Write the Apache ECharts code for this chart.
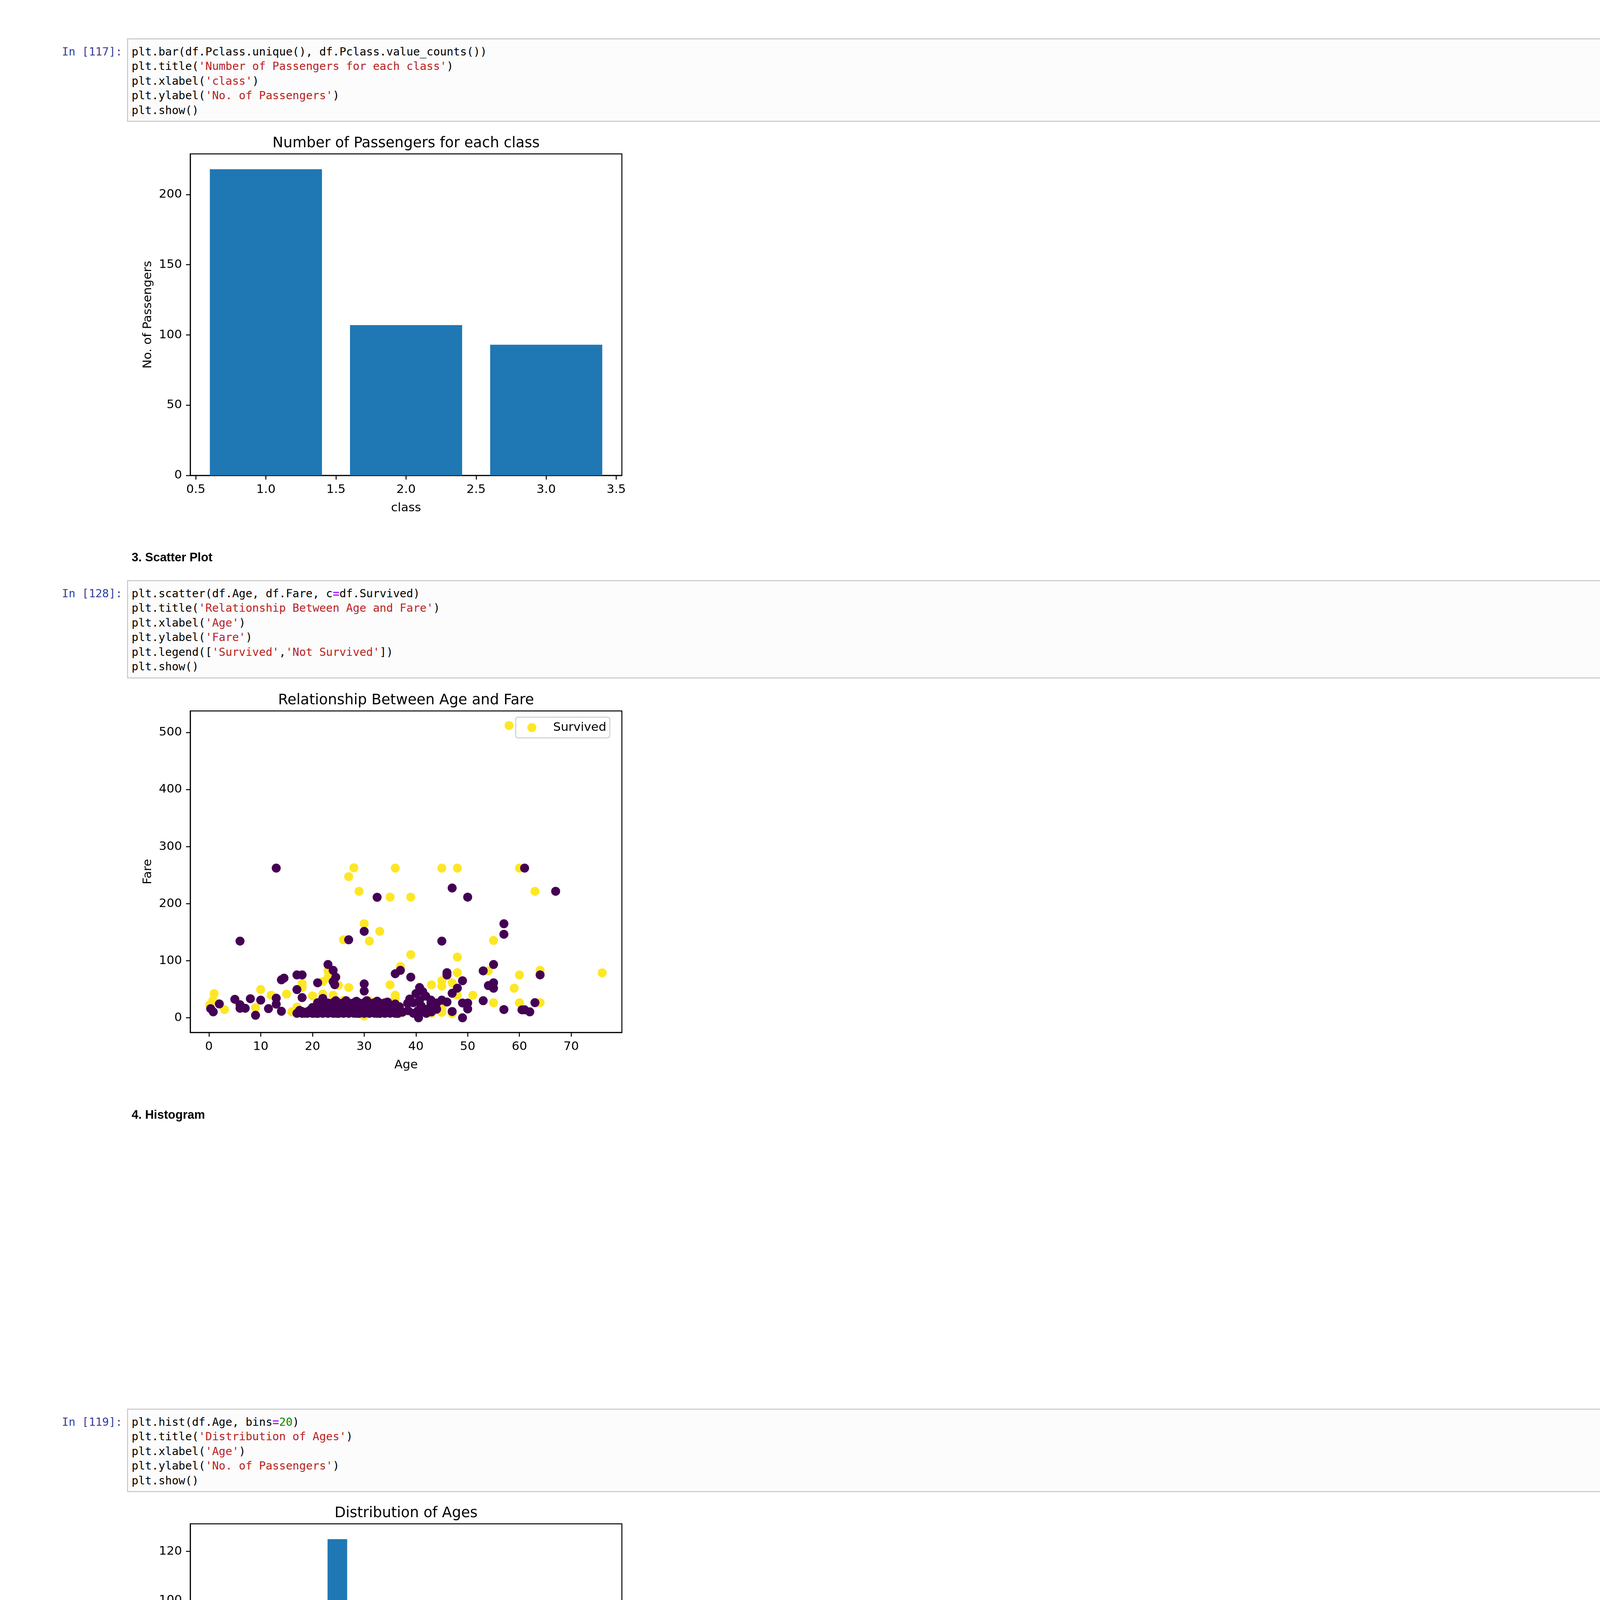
<!DOCTYPE html>
<html>
<head lang="en">
<meta charset="UTF-8">
<title>Titanic charts</title>
<script type="text/javascript" src="https://cdn.jsdelivr.net/npm/echarts@6/dist/echarts.min.js"></script>
<style>
body { margin: 0; background: #fff; width: 4959px; height: 7013px; position: relative; overflow: hidden; }
.prompt { position: absolute; left: 0; width: 313px; text-align: right; color: #303F9F;
  font-family: "DejaVu Sans Mono", monospace; font-size: 28.5px; line-height: 37.5px; }
.cell { position: absolute; left: 325px; width: 4518px; box-sizing: border-box;
  border: 3px solid #cfcfcf; background: #fcfcfc; padding: 12.5px 9px 8px 9px; }
.cell pre { margin: 0; font-family: "DejaVu Sans Mono", monospace; font-size: 28.5px; line-height: 37.5px; color: #000; }
.s { color: #BA2121; }
.o { color: #AA22FF; font-weight: bold; }
.n { color: #008800; }
.head { position: absolute; left: 337px; font-family: "Liberation Sans", Arial, sans-serif;
  font-weight: bold; font-size: 31px; line-height: 36px; color: #000; }
.note { position: absolute; left: 369px; top: 6283px; font-family: "Liberation Sans", Arial, sans-serif;
  font-size: 30px; line-height: 36px; color: #000; }
.chart { position: absolute; left: 300px; width: 1479px; height: 1100px; }
.wm { position: absolute; left: 1883px; width: 1200px; text-align: center; color: #e6e6e6; font-weight: bold; }
</style>
</head>
<body>

<div class="prompt" style="top:113.5px">In&nbsp;[117]:</div>
<div class="cell" style="top:98px"><pre>plt.bar(df.Pclass.unique(), df.Pclass.value_counts())
plt.title(<span class="s">'Number of Passengers for each class'</span>)
plt.xlabel(<span class="s">'class'</span>)
plt.ylabel(<span class="s">'No. of Passengers'</span>)
plt.show()</pre></div>
<div class="chart" id="chartClass" style="top:320px"></div>

<div class="head" style="top:1409px">3. Scatter Plot</div>
<div class="prompt" style="top:1500.5px">In&nbsp;[128]:</div>
<div class="cell" style="top:1485px"><pre>plt.scatter(df.Age, df.Fare, c<span class="o">=</span>df.Survived)
plt.title(<span class="s">'Relationship Between Age and Fare'</span>)
plt.xlabel(<span class="s">'Age'</span>)
plt.ylabel(<span class="s">'Fare'</span>)
plt.legend([<span class="s">'Survived'</span>,<span class="s">'Not Survived'</span>])
plt.show()</pre></div>
<div class="chart" id="chartScatter" style="top:1746px"></div>

<div class="head" style="top:2836px">4. Histogram</div>
<div class="prompt" style="top:3621.5px">In&nbsp;[119]:</div>
<div class="cell" style="top:3606px"><pre>plt.hist(df.Age, bins<span class="o">=</span><span class="n">20</span>)
plt.title(<span class="s">'Distribution of Ages'</span>)
plt.xlabel(<span class="s">'Age'</span>)
plt.ylabel(<span class="s">'No. of Passengers'</span>)
plt.show()</pre></div>
<div class="chart" id="chartHist" style="top:3827px"></div>

<div class="head" style="top:4915px">5. Bar Plot for Extracted Cabin Features</div>
<div class="prompt" style="top:5006.5px">In&nbsp;[120]:</div>
<div class="cell" style="top:4991px"><pre>plt.bar([<span class="s">'A'</span>,<span class="s">'B'</span>,<span class="s">'C'</span>,<span class="s">'D'</span>,<span class="s">'E'</span>,<span class="s">'F'</span>,<span class="s">'G'</span>,<span class="s">'U'</span>],df[[<span class="s">'A'</span>,<span class="s">'B'</span>,<span class="s">'C'</span>,<span class="s">'D'</span>,<span class="s">'E'</span>,<span class="s">'F'</span>,<span class="s">'G'</span>,<span class="s">'U'</span>]].sum())
plt.title(<span class="s">'Distribution of Passengers across the extracted cabin letters'</span>)
plt.xlabel(<span class="s">'Cabin Letters'</span>)
plt.ylabel(<span class="s">'No. of Passengers'</span>)
plt.show()</pre></div>
<div class="chart" id="chartCabin" style="top:5213px"></div>

<div class="note">&bull;&nbsp;&nbsp;Note That the Total Number of the cabins occupied is more than the number of passengers since a passenger can have more than one cabin.</div>

<div class="wm" style="top:6594px;font-family:'DejaVu Sans',sans-serif;font-size:220px;line-height:220px;">مستقل</div>
<div class="wm" style="top:6787px;font-family:'Liberation Sans',Arial,sans-serif;font-size:96px;line-height:96px;">mostaql.com</div>

<script type="text/javascript">
// ---- data ----
var classValues = [1, 2, 3];
var classCounts = [218, 107, 93];
var classTicks = [0.5, 1.0, 1.5, 2.0, 2.5, 3.0, 3.5];

// scatter: [age, fare]
var survivedPoints = [
  [58, 512.3], [28, 263], [27, 247.5], [36, 262.4], [45, 262.4], [48, 262.4], [60, 262.4],
  [29, 221.8], [35, 211.5], [39, 211.5], [63, 221.8], [30, 164.9], [33, 151.6], [26, 136.8],
  [31, 134.5], [55, 135.6], [39, 110.9], [48, 106.4], [54, 82.3], [64, 83.2], [76, 78.9],
  [60, 75.2], [48, 79.2], [37, 90], [23, 82.3], [22, 63.4], [25, 57], [27, 53.1], [18, 60],
  [18, 53.1], [45, 65], [47, 61.4], [45, 55.4], [43, 57.8], [59, 51.9], [35, 57.8], [48, 39.7],
  [51, 39.7], [36, 39.6], [36, 33.5], [55, 26.3], [60, 26.3], [64, 26.6], [45, 16.1], [45, 9.5],
  [47, 7.2], [37, 7.8], [30, 3.2], [0.17, 22.9], [1, 42.4], [0.75, 30.5], [3, 14.4], [9, 17.8],
  [10, 49.5], [12, 39.7], [15, 41.6], [16, 10.5], [17, 18.8], [20, 38.5], [22, 41.6], [24, 39.6],
  [22, 25.3], [33, 18], [26, 30.5], [31, 30], [38, 12], [28, 13], [21, 10.5], [25, 7.2], [41, 20],
  [43, 7.8], [23, 70.5]
];
var diedPoints = [
  [13, 262.4], [61, 262.4], [32.5, 211.3], [47, 227.5], [50, 211.5], [67, 221.8], [30, 151.6],
  [27, 136.8], [6, 134.5], [45, 134.5], [57, 164.9], [57, 146.5], [55, 93.5], [53, 82.3],
  [64, 75.3], [46, 79.2], [46, 75], [49, 65], [55, 61.4], [54, 56.5], [55, 51.9], [48, 52],
  [47, 43], [45, 31], [46, 27.7], [49, 26], [50, 26], [53, 30], [63, 26.6], [50, 15.5], [47, 11.1],
  [49, 0], [57, 14.5], [60.5, 14], [61, 14.1], [62, 10.5], [23, 93.5], [24, 83.2], [24.5, 71.2],
  [24, 63.4], [24.3, 58], [21, 61.4], [30, 59.4], [30, 46.9], [14, 66.6], [14.5, 69.6], [17, 75.2],
  [18, 75.2], [17, 49.5], [18, 35.5], [36, 77.3], [37, 83.2], [39, 71.3], [40.7, 53.1], [41.3, 46],
  [40, 42.5], [41.9, 38], [38.8, 33], [40.7, 31], [42.9, 31], [38.4, 25.5], [42.9, 25.5], [36, 24.2],
  [36.8, 19.5], [38.5, 12.6], [40.4, 12.6], [41.9, 15], [44, 15], [40.5, 0], [37.4, 10], [39.5, 8],
  [42, 7.8], [43, 10.5], [44, 26], [41, 21], [39.5, 26.5], [41.5, 10.5], [43.5, 21], [40, 7.9],
  [42.5, 13.5], [0.33, 16], [0.83, 10.5], [2, 24.3], [5, 32.5], [6, 23], [6, 16.7], [7, 16.7],
  [8, 33.5], [9, 4.5], [10, 31], [11.5, 16.1], [13, 34.4], [13, 24], [14, 11.5], [22, 34], [21, 26.5],
  [17, 7.9], [18, 7.8], [18.5, 8.05], [19, 7.9], [19.5, 13], [20, 7.8], [20.5, 8.05], [21, 7.75],
  [21.5, 13], [22, 7.9], [22.5, 10.5], [23, 7.8], [23.5, 13], [24, 7.9], [24.5, 8.05], [25, 7.75],
  [25.5, 13], [26, 7.9], [26.5, 10.5], [27, 7.8], [27.5, 13], [28, 8.05], [28.5, 7.9], [29, 7.75],
  [29.5, 13], [30, 7.9], [30.5, 10.5], [31, 7.8], [31.5, 13], [32, 8.05], [32.5, 7.9], [33, 7.75],
  [33.5, 13], [34, 7.9], [34.5, 10.5], [35, 8.05], [35.5, 13], [36, 7.9], [36.5, 7.75], [17.5, 13],
  [18, 11], [19, 10.5], [22, 14.5], [26, 14.5], [28, 15.5], [30, 14.4], [33, 15], [24, 15.5],
  [21, 14], [27, 16.1], [31, 16], [35, 15.5], [25, 9.5], [29, 9.2], [32, 11.5], [23, 11.1], [20, 9],
  [34, 12.5], [23, 26], [23.5, 21], [24, 26.5], [24.5, 30], [25, 26], [25.5, 21], [26, 26.5],
  [26.5, 30], [27, 26], [27.5, 21], [28, 26.5], [28.5, 29], [29, 26], [29.5, 21], [30, 26.5],
  [30.5, 30], [31, 26], [31.5, 21], [32, 26.5], [32.5, 29.1], [33, 26], [33.5, 21], [34, 26.3],
  [34.5, 27.7], [22, 21], [21, 21.1], [20, 18], [35, 20.2], [36, 16]
];
var ageTicks = [0, 10, 20, 30, 40, 50, 60, 70];
var fareTicks = [0, 100, 200, 300, 400, 500];

// histogram: 20 bins between the min and max age
var ageBinEdges = [0.17, 3.96, 7.75, 11.54, 15.34, 19.13, 22.92, 26.71, 30.50, 34.29, 38.09,
  41.88, 45.67, 49.46, 53.25, 57.04, 60.83, 64.63, 68.42, 72.21, 76.0];
var ageBinCounts = [11, 5, 7, 9, 29, 42, 125, 45, 25, 22, 27, 19, 16, 9, 11, 6, 8, 1, 0, 1];
var histTicks = [0, 20, 40, 60, 80, 100, 120];

var cabinLetters = ['A', 'B', 'C', 'D', 'E', 'F', 'G', 'U'];
var cabinCounts = [8, 19, 35, 13, 12, 9, 2, 327];
var cabinTicks = [0, 50, 100, 150, 200, 250, 300];

// ---- matplotlib-like styling ----
var FONT = 'DejaVu Sans';
var BLUE = '#1f77b4';

function mplAxis(min, max, ticks, fmt, name, isY) {
  return {
    type: 'value', min: min, max: max,
    name: name, nameLocation: 'middle', nameGap: isY ? 93 : 68, nameRotate: isY ? 90 : 0,
    nameTextStyle: { color: '#000', fontSize: 31, fontFamily: FONT },
    axisLine: { show: true, onZero: false, lineStyle: { color: '#000', width: 2.5 } },
    axisTick: { show: true, length: 10.8, customValues: ticks, lineStyle: { color: '#000', width: 2.5 } },
    axisLabel: { customValues: ticks, formatter: fmt, color: '#000', fontSize: 31, fontFamily: FONT, margin: 21 },
    splitLine: { show: false }
  };
}

function baseOption(title) {
  return {
    animation: false,
    title: { text: title, left: 'center', top: 20,
      textStyle: { color: '#000', fontSize: 37, fontWeight: 'normal', fontFamily: FONT, lineHeight: 44 } },
    grid: { left: 187, top: 74, width: 1105, height: 823, show: true, borderColor: '#000', borderWidth: 2.5 }
  };
}

function rectRender(params, api) {
  var p0 = api.coord([api.value(0), api.value(2)]);
  var p1 = api.coord([api.value(1), 0]);
  return { type: 'rect', shape: { x: p0[0], y: p0[1], width: p1[0] - p0[0], height: p1[1] - p0[1] },
    style: { fill: BLUE } };
}

var BAR_HALF = 0.4;
function barItems(xs, vals) {
  return xs.map(function (x, i) { return [x - BAR_HALF, x + BAR_HALF, vals[i]]; });
}

// chart 1: passengers per class
var c1 = echarts.init(document.getElementById('chartClass'));
var o1 = baseOption('Number of Passengers for each class');
o1.xAxis = mplAxis(0.46, 3.54, classTicks, function (v) { return v.toFixed(1); }, 'class', false);
o1.yAxis = mplAxis(0, 228.9, [0, 50, 100, 150, 200], function (v) { return String(v); }, 'No. of Passengers', true);
o1.series = [{ type: 'custom', renderItem: rectRender, data: barItems(classValues, classCounts), clip: true }];
c1.setOption(o1);

// chart 2: age vs fare scatter
var c2 = echarts.init(document.getElementById('chartScatter'));
var o2 = baseOption('Relationship Between Age and Fare');
o2.xAxis = mplAxis(-3.62, 79.8, ageTicks, function (v) { return String(v); }, 'Age', false);
o2.yAxis = mplAxis(-25.6, 537.9, fareTicks, function (v) { return String(v); }, 'Fare', true);
o2.legend = {
  data: ['Survived'], left: 1020, top: 90, orient: 'vertical',
  padding: [11, 9, 11, 30], itemWidth: 23, itemHeight: 23, icon: 'circle',
  backgroundColor: 'rgba(255,255,255,0.8)', borderColor: '#cccccc', borderWidth: 2.5, borderRadius: 6,
  textStyle: { color: '#000', fontSize: 31, fontFamily: FONT, padding: [0, 0, 0, 38] }
};
o2.series = [
  { name: 'Survived', type: 'scatter', data: survivedPoints, symbolSize: 23,
    itemStyle: { color: '#fde725', opacity: 1 } },
  { name: 'Not Survived', type: 'scatter', data: diedPoints, symbolSize: 23,
    itemStyle: { color: '#440154', opacity: 1 } }
];
c2.setOption(o2);

// chart 3: age histogram
var c3 = echarts.init(document.getElementById('chartHist'));
var o3 = baseOption('Distribution of Ages');
o3.xAxis = mplAxis(-3.62, 79.8, ageTicks, function (v) { return String(v); }, 'Age', false);
o3.yAxis = mplAxis(0, 131.25, histTicks, function (v) { return String(v); }, 'No. of Passengers', true);
o3.series = [{ type: 'custom', renderItem: rectRender, clip: true,
  data: ageBinCounts.map(function (c, i) { return [ageBinEdges[i], ageBinEdges[i + 1], c]; }) }];
c3.setOption(o3);

// chart 4: cabin letters
var c4 = echarts.init(document.getElementById('chartCabin'));
var o4 = baseOption('Distribution of Passengers across the extracted cabin letters');
var cabinIdx = cabinLetters.map(function (l, i) { return i; });
o4.xAxis = mplAxis(-0.79, 7.79, cabinIdx, function (v) { return cabinLetters[Math.round(v)] || ''; }, 'Cabin Letters', false);
o4.yAxis = mplAxis(0, 343.35, cabinTicks, function (v) { return String(v); }, 'No. of Passengers', true);
o4.series = [{ type: 'custom', renderItem: rectRender, data: barItems(cabinIdx, cabinCounts), clip: true }];
c4.setOption(o4);
</script>
</body>
</html>
